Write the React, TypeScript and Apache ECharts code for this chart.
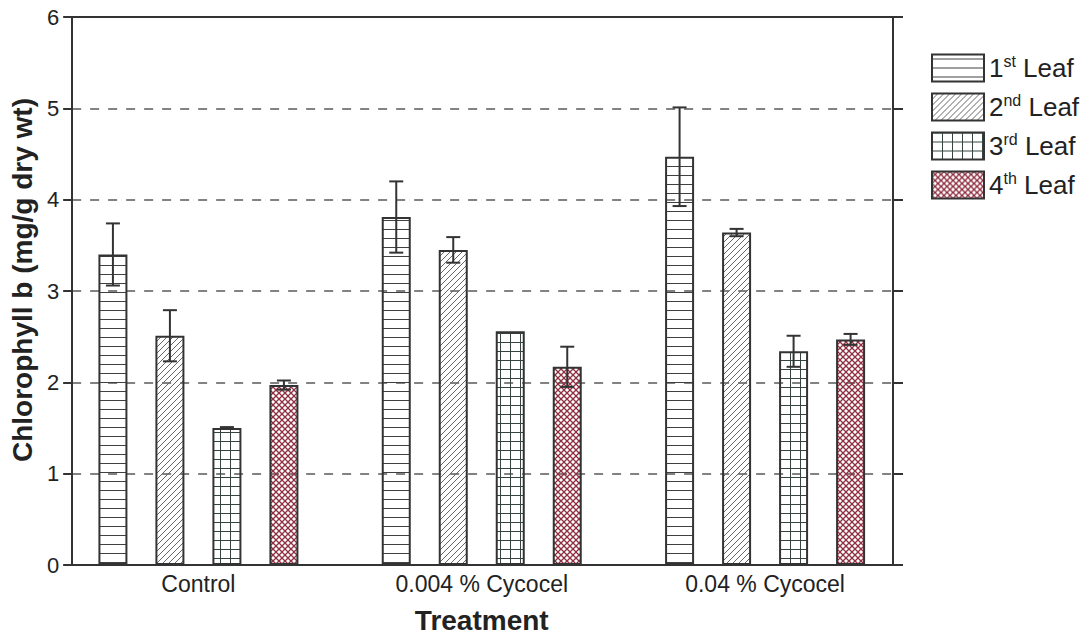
import React, { useEffect, useRef } from "react";
import * as echarts from "echarts";

// Treatments along the x axis
const categories = ["Control", "0.004 % Cycocel", "0.04 % Cycocel"];
// Leaf positions (one bar series each)
const leafNames = ["1st Leaf", "2nd Leaf", "3rd Leaf", "4th Leaf"];

// Chlorophyll b means (mg/g dry wt) per treatment
const leaf1 = [3.4, 3.81, 4.47];
const leaf2 = [2.51, 3.45, 3.64];
const leaf3 = [1.5, 2.56, 2.34];
const leaf4 = [1.97, 2.17, 2.47];

// Error-bar half lengths per treatment
const leaf1Err = [0.34, 0.39, 0.54];
const leaf2Err = [0.28, 0.14, 0.04];
const leaf3Err = [0.01, 0, 0.17];
const leaf4Err = [0.05, 0.22, 0.06];

const yMin = 0;
const yMax = 6;
const yStep = 1;

const FONT = 'Arial, "Liberation Sans", sans-serif';
const INK = "#222222";
const BAR_WIDTH = 29;
const BAR_GAP_PX = 28;
const BAR_STEP = BAR_WIDTH + BAR_GAP_PX;

type Kind = "horizontal" | "diagonal" | "grid" | "cross";

function makePattern(kind: Kind) {
  const c = document.createElement("canvas");
  let w = 6;
  let h = 6;
  if (kind === "horizontal") { w = 8; h = 9; }
  if (kind === "grid") { w = 10; h = 9; }
  c.width = w;
  c.height = h;
  const ctx = c.getContext("2d")!;
  ctx.clearRect(0, 0, w, h);
  ctx.beginPath();
  if (kind === "horizontal") {
    ctx.strokeStyle = "#404040";
    ctx.lineWidth = 1;
    ctx.moveTo(0, 4.5);
    ctx.lineTo(w, 4.5);
  } else if (kind === "diagonal") {
    ctx.strokeStyle = "#666666";
    ctx.lineWidth = 1;
    ctx.moveTo(0, h);
    ctx.lineTo(w, 0);
    ctx.moveTo(-1, 1);
    ctx.lineTo(1, -1);
    ctx.moveTo(w - 1, h + 1);
    ctx.lineTo(w + 1, h - 1);
  } else if (kind === "grid") {
    ctx.strokeStyle = "#36443f";
    ctx.lineWidth = 1;
    ctx.moveTo(0.5, 0);
    ctx.lineTo(0.5, h);
    ctx.moveTo(0, 0.5);
    ctx.lineTo(w, 0.5);
  } else {
    ctx.strokeStyle = "#8e2e40";
    ctx.lineWidth = 1.3;
    ctx.moveTo(0, 0);
    ctx.lineTo(w, h);
    ctx.moveTo(0, h);
    ctx.lineTo(w, 0);
  }
  ctx.stroke();
  return { image: c, repeat: "repeat", imageWidth: w, imageHeight: h };
}

export default function App() {
  const ref = useRef<HTMLDivElement>(null);

  useEffect(() => {
    if (!ref.current) return;
    const chart = echarts.init(ref.current, null, { renderer: "svg" });

    const means = [leaf1, leaf2, leaf3, leaf4];
    const errs = [leaf1Err, leaf2Err, leaf3Err, leaf4Err];
    const kinds: Kind[] = ["horizontal", "diagonal", "grid", "cross"];

    const barSeries = leafNames.map((name, s) => ({
      name,
      type: "bar",
      xAxisIndex: 2,
      yAxisIndex: 2,
      data: means[s],
      barWidth: BAR_WIDTH,
      barGap: `${(BAR_GAP_PX / BAR_WIDTH) * 100}%`,
      itemStyle: {
        color: makePattern(kinds[s]),
        borderColor: "#333333",
        borderWidth: 2,
      },
      z: 3,
    }));

    const errorData: number[][] = [];
    means.forEach((arr, s) => {
      arr.forEach((v, i) => {
        errorData.push([i, v, errs[s][i], s]);
      });
    });

    const errorSeries = {
      name: "error",
      type: "custom",
      xAxisIndex: 2,
      yAxisIndex: 2,
      z: 5,
      encode: { x: 0, y: 1 },
      data: errorData,
      renderItem: (params: any, api: any) => {
        const cat = api.value(0);
        const mean = api.value(1);
        const err = api.value(2);
        const s = api.value(3);
        if (!(err > 0)) return null;
        const center = api.coord([cat, mean]);
        const x = center[0] + (s - 1.5) * BAR_STEP;
        const yTop = api.coord([cat, mean + err])[1];
        const yBot = api.coord([cat, mean - err])[1];
        const half = 7;
        const style = { stroke: "#333333", lineWidth: 2 };
        return {
          type: "group",
          children: [
            { type: "line", shape: { x1: x, y1: yTop, x2: x, y2: yBot }, style },
            { type: "line", shape: { x1: x - half, y1: yTop, x2: x + half, y2: yTop }, style },
            { type: "line", shape: { x1: x - half, y1: yBot, x2: x + half, y2: yBot }, style },
          ],
        };
      },
    };

    const frameLine = { show: true, onZero: false, lineStyle: { color: "#333333", width: 2 } };

    chart.setOption({
      animation: false,
      backgroundColor: "#ffffff",
      textStyle: { fontFamily: FONT },
      grid: [
        { left: 71, right: 1092 - 893, top: 17, bottom: 642 - 565, containLabel: false },
        { left: 56.75, right: 1092 - 906.75, top: 17, bottom: 642 - 565, containLabel: false },
      ],
      legend: {
        data: leafNames,
        orient: "vertical",
        left: 926,
        top: 48,
        itemWidth: 52,
        itemHeight: 27,
        itemGap: 9,
        icon: "rect",
        selectedMode: false,
        formatter: (name: string) => name.replace(/^(\d)(st|nd|rd|th)/, "$1{sup|$2}"),
        textStyle: {
          fontFamily: FONT,
          fontSize: 26,
          color: INK,
          lineHeight: 30,
          rich: {
            sup: { fontFamily: FONT, fontSize: 16, color: INK, lineHeight: 16, verticalAlign: "top" },
          },
        },
      },
      xAxis: [
        {
          type: "value",
          gridIndex: 0,
          position: "bottom",
          min: 0,
          max: 1,
          axisLine: frameLine,
          axisTick: { show: false },
          axisLabel: { show: false },
          splitLine: { show: false },
        },
        {
          type: "value",
          gridIndex: 0,
          position: "top",
          min: 0,
          max: 1,
          axisLine: frameLine,
          axisTick: { show: false },
          axisLabel: { show: false },
          splitLine: { show: false },
        },
        {
          type: "category",
          gridIndex: 1,
          data: categories,
          axisLine: { show: false },
          axisTick: { show: false },
          axisLabel: { fontFamily: FONT, fontSize: 23, color: INK, margin: 7 },
          name: "Treatment",
          nameLocation: "middle",
          nameGap: 41,
          nameTextStyle: { fontFamily: FONT, fontSize: 28, fontWeight: "bold", color: INK },
        },
      ],
      yAxis: [
        {
          type: "value",
          gridIndex: 0,
          position: "left",
          min: yMin,
          max: yMax,
          interval: yStep,
          axisLine: frameLine,
          axisTick: { show: true, inside: false, length: 9, lineStyle: { color: "#333333", width: 2 } },
          axisLabel: { fontFamily: FONT, fontSize: 22, color: INK, margin: 13 },
          splitLine: { show: true, lineStyle: { color: "#5a5a5a", width: 1.5, type: [9, 9] } },
          name: "Chlorophyll b (mg/g dry wt)",
          nameLocation: "middle",
          nameGap: 34,
          nameTextStyle: {
            fontFamily: FONT,
            fontSize: 28,
            fontWeight: "bold",
            color: INK,
            padding: [0, 0, 0, 22],
          },
        },
        {
          type: "value",
          gridIndex: 0,
          position: "right",
          min: yMin,
          max: yMax,
          interval: yStep,
          axisLine: frameLine,
          axisTick: { show: true, inside: false, length: 10, lineStyle: { color: "#333333", width: 2 } },
          axisLabel: { show: false },
          splitLine: { show: false },
        },
        {
          type: "value",
          gridIndex: 1,
          min: yMin,
          max: yMax,
          interval: yStep,
          show: false,
          splitLine: { show: false },
        },
      ],
      series: [...barSeries, errorSeries],
    });

    return () => chart.dispose();
  }, []);

  return (
    <div
      ref={ref}
      style={{ position: "fixed", left: 0, top: 0, width: 1092, height: 642, background: "#fff" }}
    />
  );
}
